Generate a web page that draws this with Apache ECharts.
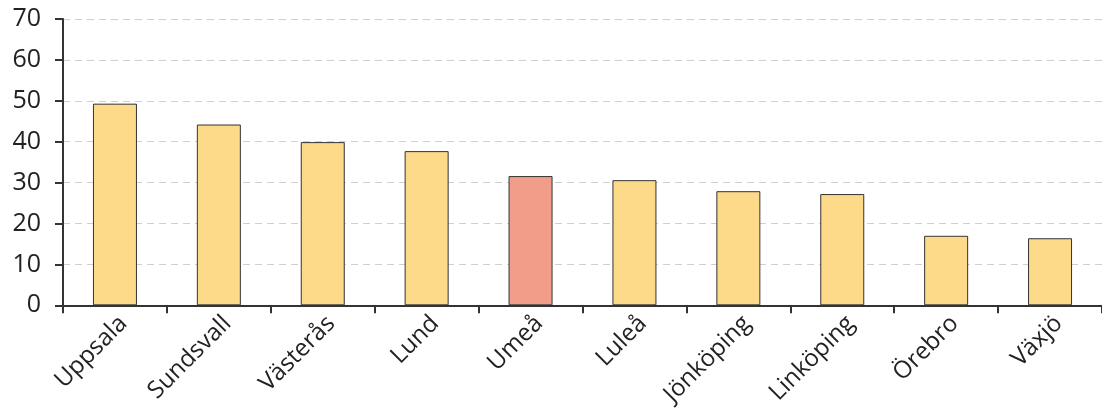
<!DOCTYPE html>
<html><head><meta charset="utf-8">
<script src="https://cdn.jsdelivr.net/npm/echarts@6/dist/echarts.min.js"></script>
<style>html,body{margin:0;padding:0;background:#fff;}#c{width:1102px;height:409px;}</style>
</head><body><div id="c"></div>
<script>
const categories = ['Uppsala','Sundsvall','Västerås','Lund','Umeå','Luleå','Jönköping','Linköping','Örebro','Växjö'];
const values = [49.3, 44.2, 39.9, 37.7, 31.6, 30.6, 27.9, 27.2, 17.0, 16.4];
const highlight = 'Umeå';
const yTicks = {min: 0, max: 70, interval: 10};

const chart = echarts.init(document.getElementById('c'));
chart.setOption({
  animation: false,
  textStyle: {fontFamily: 'Open Sans'},
  grid: {left: 63, right: 0, top: 19, bottom: 102, containLabel: false},
  xAxis: {
    type: 'category', data: categories,
    axisLine: {lineStyle: {color: '#333', width: 2}},
    axisTick: {show: true, length: 8, lineStyle: {color: '#333', width: 2}},
    axisLabel: {rotate: 45, fontSize: 24, color: '#222', margin: 6, verticalAlign: 'top', fontFamily: 'Open Sans'}
  },
  yAxis: {
    type: 'value', min: yTicks.min, max: yTicks.max, interval: yTicks.interval,
    axisLine: {show: true, lineStyle: {color: '#333', width: 2}},
    axisTick: {show: true, length: 8, lineStyle: {color: '#333', width: 2}},
    axisLabel: {fontSize: 25, color: '#222', margin: 22, fontFamily: 'Open Sans'},
    splitLine: {show: true, lineStyle: {color: '#d0d0d0', type: [7, 5], width: 1.2}}
  },
  series: [{
    type: 'bar', barWidth: 44,
    data: categories.map((c, i) => ({
      value: values[i],
      itemStyle: {color: c === highlight ? '#F29D8A' : '#FDD98A', borderColor: '#333', borderWidth: 1}
    }))
  }]
});
</script></body></html>
